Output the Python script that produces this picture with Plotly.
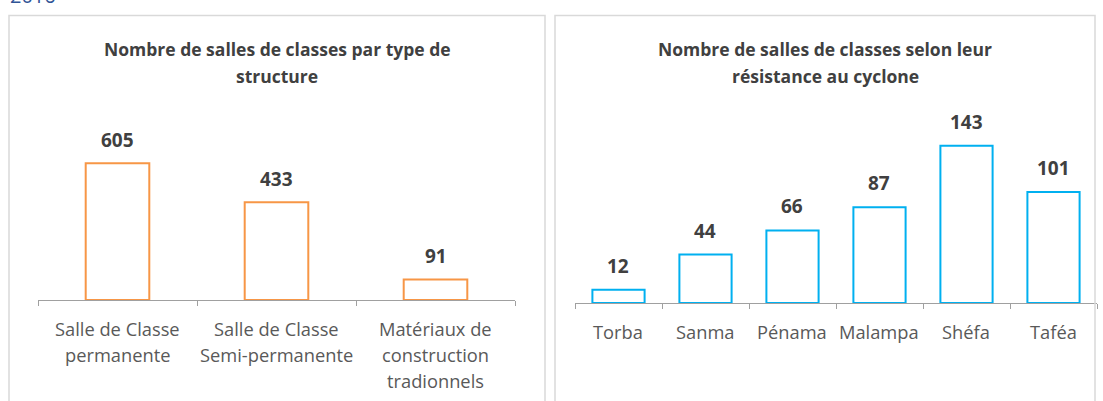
import plotly.graph_objects as go

# ---- data ----
left_title = ["Nombre de salles de classes par type de", "structure"]
left_categories = ["Salle de Classe<br>permanente", "Salle de Classe<br>Semi-permanente",
                   "Matériaux de<br>construction<br>tradionnels"]
left_values = [605, 433, 91]

right_title = ["Nombre de salles de classes selon leur", "résistance au cyclone"]
right_categories = ["Torba", "Sanma", "Pénama", "Malampa", "Shéfa", "Taféa"]
right_values = [12, 44, 66, 87, 143, 101]

header = "2016"

# ---- layout helpers ----
W, H = 1103, 401
def px(x):
    return x / W
def py(y):
    return 1 - y / H

FONT = "Open Sans"
fig = go.Figure()

fig.add_trace(go.Bar(x=list(range(len(left_values))), y=left_values, width=0.4,
                     marker=dict(color="white", line=dict(color="#F79646", width=2)),
                     xaxis="x", yaxis="y", showlegend=False, hoverinfo="skip"))
fig.add_trace(go.Bar(x=list(range(len(right_values))), y=right_values, width=0.6,
                     marker=dict(color="white", line=dict(color="#00B0F0", width=2)),
                     xaxis="x2", yaxis="y2", showlegend=False, hoverinfo="skip"))

axis_common = dict(showline=True, linecolor="#A0A0A0", linewidth=1, ticks="outside",
                   ticklen=5, tickcolor="#A0A0A0", tickwidth=1, showgrid=False,
                   zeroline=False, showticklabels=False, fixedrange=True)

fig.update_layout(
    width=W, height=H, margin=dict(l=0, r=0, t=0, b=0),
    paper_bgcolor="white", plot_bgcolor="rgba(0,0,0,0)",
    bargap=0,
    xaxis=dict(domain=[px(38), px(515)], anchor="y", range=[-0.5, len(left_values) - 0.5],
               tickmode="array", tickvals=[i - 0.5 for i in range(len(left_values) + 1)],
               **axis_common),
    yaxis=dict(domain=[py(300), py(120)], range=[0, 180 / 0.226], visible=False,
               fixedrange=True),
    xaxis2=dict(domain=[px(575), px(1097)], anchor="y2", range=[-0.5, len(right_values) - 0.5],
                tickmode="array", tickvals=[i - 0.5 for i in range(len(right_values) + 1)],
                **axis_common),
    yaxis2=dict(domain=[py(303), py(120)], range=[0, 183 / 1.10], visible=False,
                fixedrange=True),
)

shapes = [
    dict(type="rect", xref="paper", yref="paper", x0=px(9), x1=px(545), y0=py(410), y1=py(15.5),
         line=dict(color="#D9D9D9", width=1.5), fillcolor="rgba(0,0,0,0)"),
    dict(type="rect", xref="paper", yref="paper", x0=px(555), x1=px(1095), y0=py(410), y1=py(15.5),
         line=dict(color="#D9D9D9", width=1.5), fillcolor="rgba(0,0,0,0)"),
]
fig.update_layout(shapes=shapes)

ann = []
ann.append(dict(text=header, xref="paper", yref="paper", x=px(8), y=py(-4),
                xanchor="left", yanchor="middle", showarrow=False,
                font=dict(family=FONT, size=20, color="#2F5496")))

for cx, lines in ((277, left_title), (825, right_title)):
    for k, line in enumerate(lines):
        ann.append(dict(text="<b>%s</b>" % line, xref="paper", yref="paper", x=px(cx),
                        y=py(49 + 26.5 * k), xanchor="center", yanchor="middle", showarrow=False,
                        font=dict(family=FONT, size=17.5, color="#404040")))

for xa, ya, vals, sh in (("x", "y", left_values, 23.5), ("x2", "y2", right_values, 24)):
    for i, v in enumerate(vals):
        ann.append(dict(text="<b>%d</b>" % v, xref=xa, yref=ya, x=i, y=v, yshift=sh,
                        xanchor="center", yanchor="middle", showarrow=False,
                        font=dict(family=FONT, size=19, color="#404040")))

for xa, ya, cats in (("x", "y", left_categories), ("x2", "y2", right_categories)):
    for i, c in enumerate(cats):
        for k, line in enumerate(c.split("<br>")):
            ann.append(dict(text=line, xref=xa, yref=ya, x=i, y=0, yshift=-(28 + 26 * k),
                            xanchor="center", yanchor="middle", showarrow=False,
                            font=dict(family=FONT, size=18.3, color="#595959")))

fig.update_layout(annotations=ann)
fig.write_html("out.html", config={"displayModeBar": False, "staticPlot": True})

# remove the default 8px page margin so the figure fills the window
with open("out.html", encoding="utf-8") as f:
    html = f.read()
html = html.replace("<head>", "<head><style>html,body{margin:0;padding:0;overflow:hidden;}</style>", 1)
with open("out.html", "w", encoding="utf-8") as f:
    f.write(html)
